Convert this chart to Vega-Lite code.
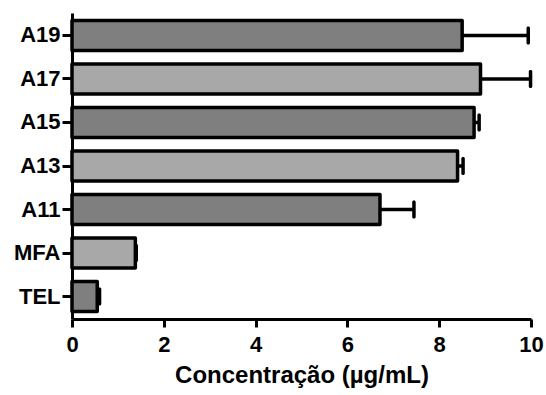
{
  "$schema": "https://vega.github.io/schema/vega-lite/v6.json",
  "width": 459,
  "height": 306,
  "autosize": {"type": "none"},
  "padding": {"left": 72, "top": 13, "right": 15, "bottom": 76},
  "config": {"view": {"stroke": null}, "font": "Liberation Sans"},
  "data": {
    "values": [
      {"composto": "A19", "media": 8.50, "sup": 9.94},
      {"composto": "A17", "media": 8.90, "sup": 9.99},
      {"composto": "A15", "media": 8.76, "sup": 8.87},
      {"composto": "A13", "media": 8.40, "sup": 8.52},
      {"composto": "A11", "media": 6.71, "sup": 7.45},
      {"composto": "MFA", "media": 1.38, "sup": 1.40},
      {"composto": "TEL", "media": 0.55, "sup": 0.60}
    ]
  },
  "encoding": {
    "y": {
      "field": "composto",
      "type": "nominal",
      "sort": ["A19", "A17", "A15", "A13", "A11", "MFA", "TEL"],
      "scale": {"paddingInner": 0.31, "paddingOuter": 0.17},
      "axis": {
        "title": null,
        "domainColor": "black",
        "domainWidth": 3,
        "tickColor": "black",
        "tickWidth": 3,
        "tickSize": 10,
        "labelFontSize": 22,
        "labelFontWeight": "bold",
        "labelColor": "black",
        "labelPadding": 2
      }
    }
  },
  "layer": [
    {
      "mark": {"type": "rule", "color": "black", "strokeWidth": 3.5},
      "encoding": {
        "x": {"field": "media", "type": "quantitative"},
        "x2": {"field": "sup"}
      }
    },
    {
      "mark": {"type": "bar", "stroke": "black", "strokeWidth": 3.5, "strokeJoin": "round"},
      "encoding": {
        "x": {
          "field": "media",
          "type": "quantitative",
          "scale": {"domain": [0, 10], "nice": false},
          "axis": {
            "title": "Concentração (µg/mL)",
            "values": [0, 2, 4, 6, 8, 10],
            "grid": false,
            "domainColor": "black",
            "domainWidth": 3,
            "tickColor": "black",
            "tickWidth": 3,
            "tickSize": 8,
            "labelFontSize": 22,
            "labelFontWeight": "bold",
            "labelColor": "black",
            "labelPadding": 7,
            "labelFlush": false,
            "titleFontSize": 24,
            "titleFontWeight": "bold",
            "titleColor": "black",
            "titlePadding": 8
          }
        },
        "fill": {
          "condition": {"test": "indexof(['A17', 'A13', 'MFA'], datum.composto) >= 0", "value": "#a8a8a8"},
          "value": "#7f7f7f"
        }
      }
    },
    {
      "mark": {"type": "tick", "orient": "vertical", "size": 18, "thickness": 3.5, "color": "black", "opacity": 1, "cornerRadius": 1.5},
      "encoding": {
        "x": {"field": "sup", "type": "quantitative"}
      }
    }
  ]
}
